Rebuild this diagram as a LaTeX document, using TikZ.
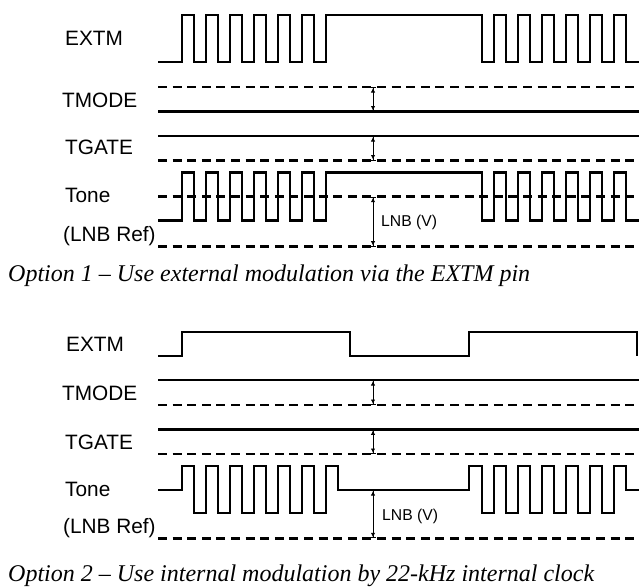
\documentclass[tikz,border=0pt]{standalone}
\usepackage{fontspec}
\setmainfont{Liberation Sans}
\newfontfamily\capfont{Liberation Serif}
\usetikzlibrary{arrows.meta}

\begin{document}
\begin{tikzpicture}[x=1pt,y=-1pt,
    sig_line/.style={line width=2.5pt},
    ref_line/.style={line width=2.5pt,dash pattern=on 9pt off 5.6pt},
    gap_arrow/.style={line width=1pt,{Bar[width=5pt]Latex[length=4.5pt,width=4.5pt]}-{Latex[length=4.5pt,width=4.5pt]Bar[width=5pt]}},
    sig_name/.style={anchor=west,inner sep=0pt,font=\fontsize{20.8}{22}\selectfont},
    lnb_text/.style={anchor=west,inner sep=0pt,font=\fontsize{15.7}{17}\selectfont},
    cap_text/.style={anchor=base west,inner sep=0pt,font=\capfont\itshape\fontsize{24}{26}\selectfont}]
    \useasboundingbox (0,0) rectangle (639,586);

    % Option 1
    \node[sig_name] (extm1) at (65,38) {EXTM};
    \node[sig_name] (tmode1) at (62,100) {TMODE};
    \node[sig_name] (tgate1) at (65,147) {TGATE};
    \node[sig_name] (tone1) at (65,195) {Tone};
    \node[sig_name] (ref1) at (63,236) {(LNB Ref)};
    \draw[sig_line] (158,62) -- (182,62) foreach \i in {1,...,6} { -- ++(0,-47) -- ++(12,0) -- ++(0,47) -- ++(12,0) }
        -- ++(0,-47) -- (482,15) foreach \i in {1,...,6} { -- ++(0,47) -- ++(12,0) -- ++(0,-47) -- ++(12,0) } -- ++(0,47) -- (639,62);
    \draw[ref_line] (158,87) -- (639,87);
    \draw[sig_line] (158,111.5) -- (639,111.5);
    \draw[sig_line] (158,136) -- (639,136);
    \draw[ref_line] (158,160.5) -- (639,160.5);
    \draw[ref_line] (158,196.7) -- (639,196.7);
    \draw[ref_line] (158,246.7) -- (639,246.7);
    \draw[sig_line] (158,220.7) -- (182,220.7) foreach \i in {1,...,6} { -- ++(0,-48) -- ++(12,0) -- ++(0,48) -- ++(12,0) }
        -- ++(0,-48) -- (482,172.7) foreach \i in {1,...,6} { -- ++(0,48) -- ++(12,0) -- ++(0,-48) -- ++(12,0) } -- ++(0,48) -- (639,220.7);
    \coordinate (a1) at (373,87);
    \coordinate (b1) at (373,111.5);
    \coordinate (c1) at (373,136);
    \coordinate (d1) at (373,160.5);
    \coordinate (e1) at (373,196.7);
    \coordinate (f1) at (373,246.7);
    \draw[gap_arrow] (a1) -- (b1);
    \draw[gap_arrow] (c1) -- (d1);
    \draw[gap_arrow] (e1) -- (f1);
    \node[lnb_text] (lnb1) at (381,222.7) {LNB (V)};
    \node[cap_text] (opt1) at (8,281.5) {Option 1 – Use external modulation via the EXTM pin};

    % Option 2
    \node[sig_name] (extm2) at (66,344) {EXTM};
    \node[sig_name] (tmode2) at (62,393) {TMODE};
    \node[sig_name] (tgate2) at (65,442) {TGATE};
    \node[sig_name] (tone2) at (65,489) {Tone};
    \node[sig_name] (ref2) at (63,528) {(LNB Ref)};
    \draw[sig_line] (158,356) -- (182,356) -- (182,332) -- (350,332) -- (350,356) -- (469,356) -- (469,332) -- (637,332) -- (637,356);
    \draw[sig_line] (158,380) -- (639,380);
    \draw[ref_line] (158,405) -- (639,405);
    \draw[sig_line] (158,429.3) -- (639,429.3);
    \draw[ref_line] (158,454) -- (639,454);
    \draw[ref_line] (158,538.3) -- (639,538.3);
    \draw[sig_line] (158,490) -- (182,490) -- (182,466) foreach \i in {1,...,6} { -- ++(12,0) -- ++(0,47) -- ++(12,0) -- ++(0,-47) }
        -- ++(12,0) -- ++(0,24) -- (469,490) -- ++(0,-24) -- (482,466) foreach \i in {1,...,6} { -- ++(0,47) -- ++(12,0) -- ++(0,-47) -- ++(12,0) } -- ++(0,24) -- (639,490);
    \coordinate (a2) at (373,380);
    \coordinate (b2) at (373,405);
    \coordinate (c2) at (373,429.3);
    \coordinate (d2) at (373,454);
    \coordinate (e2) at (373,490);
    \coordinate (f2) at (373,538.3);
    \draw[gap_arrow] (a2) -- (b2);
    \draw[gap_arrow] (c2) -- (d2);
    \draw[gap_arrow] (e2) -- (f2);
    \node[lnb_text] (lnb2) at (382,516.7) {LNB (V)};
    \node[cap_text] (opt2) at (8,581) {Option 2 – Use internal modulation by 22-kHz internal clock};
\end{tikzpicture}
\end{document}
